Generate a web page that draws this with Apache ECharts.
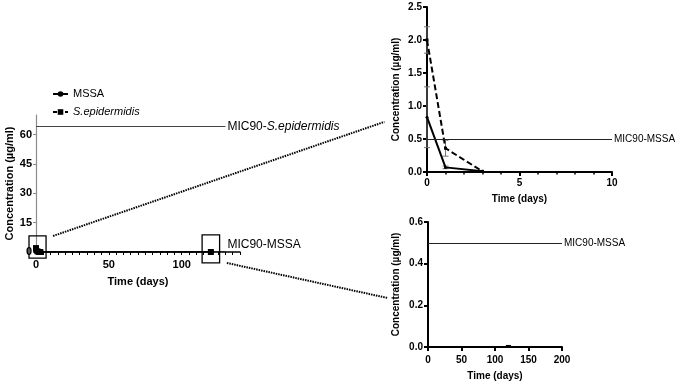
<!DOCTYPE html>
<html>
<head>
<meta charset="utf-8">
<script src="https://cdn.jsdelivr.net/npm/echarts@6/dist/echarts.min.js"></script>
<style>
  html, body { margin: 0; padding: 0; background: #fff; }
  #chart { width: 677px; height: 385px; }
</style>
</head>
<body>
<div id="chart"></div>
<script>
// sampling days and mean concentrations (µg/ml)
const days = [0, 1, 3, 120];
const mssaConc = [0.83, 0.07, 0.01, 0.005];
const sepiConc = [2.0, 0.36, 0.01, 0.005];
const mssaSd = [0.46, 0.02, 0, 0];
const sepiSd = [0.2, 0.12, 0, 0];

// MIC90 thresholds
const mic90Mssa = 0.5;
const mic90Sepi = 64;

// tick values
const mainXTicks = [0, 5, 10, 15, 20, 25, 30, 35, 40, 45, 50, 55, 60, 65, 70, 75, 80, 85, 90, 95, 100, 105, 110, 115, 120, 125, 130, 135, 140];
const mainXLabels = [0, 50, 100];
const mainYLabels = [0, 15, 30, 45, 60];

const FONT = "'Liberation Sans', Arial, sans-serif";

const pts = (filter) =>
  days.map((d, i) => i).filter(filter);

const toLine = (vals, idx) => idx.map((i) => [days[i], vals[i]]);
const toErr = (vals, sd, idx) =>
  idx.filter((i) => sd[i] > 0).map((i) => [days[i], vals[i] - sd[i], vals[i] + sd[i]]);

const allIdx = pts(() => true);
const earlyIdx = pts((i) => days[i] <= 10);
const lateIdx = pts((i) => days[i] > 100);

const chart = echarts.init(document.getElementById("chart"));

const axisName = (size) => ({
  color: "#000",
  fontSize: size,
  fontWeight: "bold",
  fontFamily: FONT,
});
const tickLabel = (size, margin) => ({
  color: "#000",
  fontSize: size,
  fontWeight: "bold",
  fontFamily: FONT,
  margin,
});
const micLabel = (text, size, offset) => ({
  show: true,
  position: "end",
  distance: 2,
  formatter: text,
  color: "#000",
  fontSize: size,
  fontFamily: FONT,
  offset: offset || [0, 0],
  rich: {
    n: { fontSize: size, fontFamily: FONT, color: "#000" },
    i: { fontSize: size, fontFamily: FONT, color: "#000", fontStyle: "italic" },
  },
});

const errorBars = (data, xi, yi) => ({
  type: "custom",
  xAxisIndex: xi,
  yAxisIndex: yi,
  silent: true,
  z: 1,
  data,
  renderItem: (params, api) => {
    const lo = api.coord([api.value(0), api.value(1)]);
    const hi = api.coord([api.value(0), api.value(2)]);
    const w = 3;
    const style = { stroke: "#777", lineWidth: 1 };
    return {
      type: "group",
      children: [
        { type: "line", shape: { x1: lo[0], y1: lo[1], x2: hi[0], y2: hi[1] }, style },
        { type: "line", shape: { x1: lo[0] - w, y1: lo[1], x2: lo[0] + w, y2: lo[1] }, style },
        { type: "line", shape: { x1: hi[0] - w, y1: hi[1], x2: hi[0] + w, y2: hi[1] }, style },
      ],
    };
  },
});

const option = {
  animation: false,
  backgroundColor: "#fff",
  legend: {
    orient: "vertical",
    left: 47,
    top: 83,
    itemWidth: 15,
    itemHeight: 7,
    itemGap: 6,
    data: ["MSSA", "S.epidermidis"],
    formatter: (name) => (name === "S.epidermidis" ? "{i|S.epidermidis}" : name),
    textStyle: {
      color: "#000",
      fontSize: 11,
      fontFamily: FONT,
      lineHeight: 12,
      rich: { i: { fontStyle: "italic", fontSize: 11, fontFamily: FONT, color: "#000" } },
    },
  },
  grid: [
    { left: 36, top: 115, width: 204, height: 137, outerBoundsMode: "none" },
    { left: 427, top: 7, width: 185, height: 165, outerBoundsMode: "none" },
    { left: 428, top: 222, width: 134, height: 125, outerBoundsMode: "none" },
  ],
  xAxis: [
    {
      gridIndex: 0,
      type: "value",
      min: 0,
      max: 140,
      name: "Time (days)",
      nameLocation: "middle",
      nameGap: 24,
      nameTextStyle: axisName(11),
      axisLine: { lineStyle: { color: "#000", width: 1.5 } },
      axisTick: { show: true, length: 3, customValues: mainXTicks, lineStyle: { color: "#000", width: 1 } },
      axisLabel: Object.assign(tickLabel(11, 7), { customValues: mainXLabels }),
      splitLine: { show: false },
    },
    {
      gridIndex: 1,
      type: "value",
      min: 0,
      max: 10,
      interval: 5,
      name: "Time (days)",
      nameLocation: "middle",
      nameGap: 22,
      nameTextStyle: axisName(10),
      axisLine: { lineStyle: { color: "#000", width: 2 } },
      axisTick: { length: 4, lineStyle: { color: "#000", width: 2 } },
      minorTick: { show: true, splitNumber: 5, length: 2.5, lineStyle: { color: "#000", width: 1.5 } },
      axisLabel: tickLabel(10, 6),
      splitLine: { show: false },
    },
    {
      gridIndex: 2,
      type: "value",
      min: 0,
      max: 200,
      interval: 50,
      name: "Time (days)",
      nameLocation: "middle",
      nameGap: 24,
      nameTextStyle: axisName(10),
      axisLine: { lineStyle: { color: "#000", width: 2 } },
      axisTick: { length: 4, lineStyle: { color: "#000", width: 2 } },
      axisLabel: tickLabel(10, 8),
      splitLine: { show: false },
    },
  ],
  yAxis: [
    {
      gridIndex: 0,
      type: "value",
      min: 0,
      max: 70,
      name: "Concentration (µg/ml)",
      nameLocation: "middle",
      nameGap: 21,
      nameTextStyle: axisName(11),
      axisLine: { onZero: false, lineStyle: { color: "#8c8c8c", width: 1.2 } },
      axisTick: { length: 3, customValues: mainYLabels, lineStyle: { color: "#8c8c8c", width: 1 } },
      axisLabel: Object.assign(tickLabel(11, 4), { customValues: mainYLabels }),
      splitLine: { show: false },
    },
    {
      gridIndex: 1,
      type: "value",
      min: 0,
      max: 2.5,
      interval: 0.5,
      name: "Concentration (µg/ml)",
      nameLocation: "middle",
      nameGap: 26,
      nameTextStyle: axisName(10),
      axisLine: { lineStyle: { color: "#000", width: 2 } },
      axisTick: { length: 4, lineStyle: { color: "#000", width: 2 } },
      axisLabel: Object.assign(tickLabel(10, 5), { formatter: (v) => v.toFixed(1) }),
      splitLine: { show: false },
    },
    {
      gridIndex: 2,
      type: "value",
      min: 0,
      max: 0.6,
      interval: 0.2,
      name: "Concentration (µg/ml)",
      nameLocation: "middle",
      nameGap: 27,
      nameTextStyle: axisName(10),
      axisLine: { lineStyle: { color: "#000", width: 2 } },
      axisTick: { length: 4, lineStyle: { color: "#000", width: 2 } },
      axisLabel: Object.assign(tickLabel(10, 5), { formatter: (v) => v.toFixed(1) }),
      splitLine: { show: false },
    },
  ],
  series: [
    // main overview
    {
      name: "MSSA",
      type: "line",
      xAxisIndex: 0,
      yAxisIndex: 0,
      data: toLine(mssaConc, allIdx),
      symbol: "circle",
      symbolSize: 6,
      showAllSymbol: true,
      z: 5,
      itemStyle: { color: "#000" },
      lineStyle: { color: "#000", width: 1.5 },
      markLine: {
        silent: true,
        symbol: "none",
        lineStyle: { color: "#222", width: 1, type: "solid" },
        data: [
          [
            { coord: [0, mic90Mssa] },
            { coord: [130, mic90Mssa], label: micLabel("MIC90-MSSA", 12, [0, -6]) },
          ],
        ],
      },
    },
    {
      name: "S.epidermidis",
      type: "line",
      xAxisIndex: 0,
      yAxisIndex: 0,
      data: toLine(sepiConc, allIdx),
      symbol: "rect",
      symbolSize: 6,
      showAllSymbol: true,
      z: 6,
      itemStyle: { color: "#000" },
      lineStyle: { color: "#000", width: 1.5, type: [4, 2] },
      markLine: {
        silent: true,
        symbol: "none",
        lineStyle: { color: "#444", width: 1, type: "solid" },
        data: [
          [
            { coord: [0, mic90Sepi] },
            { coord: [130, mic90Sepi], label: micLabel("{n|MIC90-}{i|S.epidermidis}", 12) },
          ],
        ],
      },
    },
    // early-phase zoom
    errorBars(toErr(mssaConc, mssaSd, earlyIdx), 1, 1),
    errorBars(toErr(sepiConc, sepiSd, earlyIdx), 1, 1),
    {
      name: "MSSA",
      type: "line",
      xAxisIndex: 1,
      yAxisIndex: 1,
      data: toLine(mssaConc, earlyIdx),
      symbol: "circle",
      symbolSize: 3,
      itemStyle: { color: "#000" },
      lineStyle: { color: "#000", width: 2 },
      markLine: {
        silent: true,
        symbol: "none",
        lineStyle: { color: "#222", width: 1, type: "solid" },
        data: [{ yAxis: mic90Mssa, label: micLabel("MIC90-MSSA", 10) }],
      },
    },
    {
      name: "S.epidermidis",
      type: "line",
      xAxisIndex: 1,
      yAxisIndex: 1,
      data: toLine(sepiConc, earlyIdx),
      symbol: "rect",
      symbolSize: 3,
      itemStyle: { color: "#000" },
      lineStyle: { color: "#000", width: 2, type: [6, 3] },
    },
    // late-phase zoom
    {
      name: "MSSA",
      type: "line",
      xAxisIndex: 2,
      yAxisIndex: 2,
      data: toLine(mssaConc, lateIdx),
      symbol: "rect",
      symbolSize: [5, 2],
      showSymbol: true,
      itemStyle: { color: "#000" },
      lineStyle: { color: "#000", width: 2 },
      markLine: {
        silent: true,
        symbol: "none",
        lineStyle: { color: "#222", width: 1, type: "solid" },
        data: [{ yAxis: mic90Mssa, label: micLabel("MIC90-MSSA", 10) }],
      },
    },
  ],
};

chart.setOption(option);

// zoom boxes on the overview and leader lines to the zoomed panels (data coords)
const box1 = [[-4.8, 8.2], [6.9, -3.1]];
const box2 = [[114, 8.7], [126, -5.6]];
const lead1 = { from: [11.7, 8.2], to: [-2.3, 0.76] };
const lead2 = { from: [131, -5.6], to: [-60, 0.235] };

const px = (g, p) => chart.convertToPixel({ gridIndex: g }, p);
const rect = (b) => {
  const a = px(0, b[0]);
  const c = px(0, b[1]);
  return {
    type: "rect",
    silent: true,
    z: 10,
    shape: { x: a[0], y: a[1], width: c[0] - a[0], height: c[1] - a[1] },
    style: { fill: "none", stroke: "#000", lineWidth: 1.3 },
  };
};
const leader = (l, g) => {
  const a = px(0, l.from);
  const b = px(g, l.to);
  return {
    type: "line",
    silent: true,
    z: 10,
    shape: { x1: a[0], y1: a[1], x2: b[0], y2: b[1] },
    style: { stroke: "#000", lineWidth: 2, lineDash: [1.5, 1] },
  };
};

chart.setOption({
  graphic: [rect(box1), rect(box2), leader(lead1, 1), leader(lead2, 2)],
});
</script>
</body>
</html>
